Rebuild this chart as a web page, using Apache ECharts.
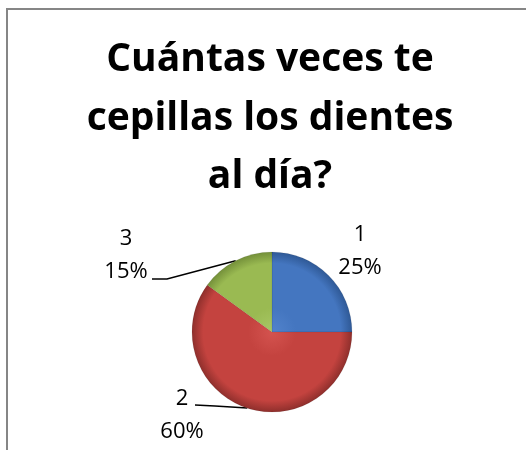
<!DOCTYPE html>
<html><head><meta charset="utf-8">
<script src="https://cdn.jsdelivr.net/npm/echarts@6/dist/echarts.min.js"></script>
<style>html,body{margin:0;padding:0;background:#fff}#c{width:526px;height:450px}</style>
</head><body><div id="c"></div>
<script>
const categories = ['1', '2', '3'];
const values = [25, 60, 15];
const titleLines = ['Cuántas veces te', 'cepillas los dientes', 'al día?'];

const CX = 272, CY = 332, R = 80;
const FONT = '"Open Sans", Lato, sans-serif';
function grad(light, base, dark) {
  return new echarts.graphic.RadialGradient(CX, CY, R, [
    {offset: 0, color: light},
    {offset: 0.3, color: base},
    {offset: 0.86, color: base},
    {offset: 1, color: dark}
  ], true);
}
const colors = [
  grad('#5283cc', '#4476c0', '#2f5996'),
  grad('#d4534f', '#c4433f', '#8f2f2c'),
  grad('#a8c766', '#9aba52', '#74903a')
];
const labelPos = [
  {x: 360, y: 251},
  {x: 182, y: 415},
  {x: 126, y: 255}
];
const titleY = [60, 119, 177];

const chart = echarts.init(document.getElementById('c'), null, {renderer: 'canvas'});
chart.setOption({
  animation: false,
  graphic: [
    {type: 'rect', shape: {x: 7, y: 9, width: 700, height: 700},
     style: {fill: 'none', stroke: '#868686', lineWidth: 2}, z: 0}
  ].concat(titleLines.map((t, i) => ({
    type: 'text', x: 270, y: titleY[i],
    style: {text: t, fill: '#000', font: 'bold 39px ' + FONT, textAlign: 'center', textVerticalAlign: 'middle'}
  }))),
  series: [{
    type: 'pie',
    center: [CX, CY],
    radius: [0, R],
    startAngle: 90,
    clockwise: true,
    percentPrecision: 0,
    data: categories.map((c, i) => ({
      name: c, value: values[i],
      itemStyle: {color: colors[i]},
      labelLine: {show: i !== 0}
    })),
    itemStyle: {borderColor: 'rgba(0,0,0,0.15)', borderWidth: 0.5},
    label: {
      show: true, position: 'outside',
      formatter: '{b}\n{d}%',
      fontFamily: FONT, fontSize: 22, lineHeight: 33, color: '#000', align: 'center'
    },
    labelLine: {show: true, lineStyle: {color: '#000', width: 1.5}, length: 10, length2: 10},
    labelLayout: function (p) {
      const pos = labelPos[p.dataIndex];
      const out = {x: pos.x, y: pos.y, align: 'center', verticalAlign: 'middle'};
      const start = p.labelLinePoints && p.labelLinePoints[0];
      if (start && p.dataIndex === 2) {
        out.labelLinePoints = [start, [167, 279], [152, 279]];
      } else if (start && p.dataIndex === 1) {
        out.labelLinePoints = [start, [215, 406], [195, 405]];
      }
      return out;
    }
  }]
});
</script></body></html>
